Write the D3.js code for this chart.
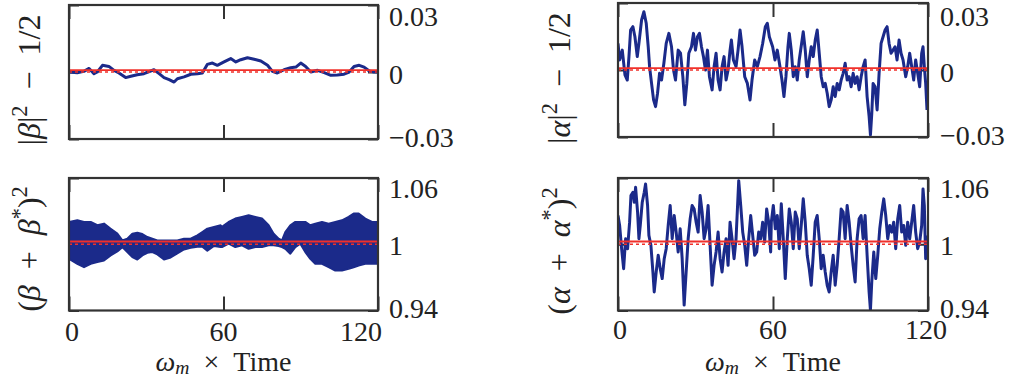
<!DOCTYPE html>
<html>
<head>
<meta charset="utf-8">
<script src="https://cdn.jsdelivr.net/npm/d3@7"></script>
<style>
  body { margin: 0; background: #fff; }
  svg { display: block; }
  text { font-family: "Liberation Serif", "DejaVu Serif", serif; fill: #222; }
</style>
</head>
<body>
<svg width="1020" height="379"></svg>
<script>
// time axis
const tTicks = [0, 60, 120]
const tTickLabels = ['0', '60', '120']

// |beta|^2 - 1/2  (top left)
const betaNormT = [0, 3.2, 5.8, 7.8, 9.7, 11.0, 13.0, 15.5, 17.5, 19.4, 22.0, 24.0, 26.5, 29.1, 31.7,
  33.0, 35.0, 36.9, 38.9, 40.8, 42.1, 44.7, 47.3, 49.9, 51.8, 53.7, 55.7, 57.6, 60.2, 62.8,
  64.8, 66.7, 69.3, 71.9, 74.5, 77.1, 79.0, 80.9, 83.5, 86.1, 88.1, 90.0, 91.9, 93.9, 96.5,
  99.1, 101.7, 104.2, 106.8, 108.8, 110.7, 112.7, 114.6, 116.6, 118.5, 120]
const betaNormV = [0, -0.0003, 0.0003, 0.0016, -0.00075, 0, 0.003, 0.0025, 0.00075, -0.00045,
  -0.0025, -0.0019, -0.0012, -0.00075, 0.00045, 0.001, -0.00075, -0.0025, -0.0034, -0.0045,
  -0.003, -0.0022, -0.001, -0.00075, -0.00045, 0.0034, 0.004, 0.003, 0.0045, 0.006,
  0.0045, 0.0055, 0.0064, 0.0057, 0.0049, 0.003, 0.0003, -0.00045, 0.001, 0.0019,
  0.0022, 0.004, 0.0025, 0, 0.00075, -0.0003, -0.0015, -0.0013, -0.001, 0,
  0.0025, 0.003, 0.0022, 0.00045, 0, 0]

// |alpha|^2 - 1/2  (top right)
const alphaNormT = [0, 0.63, 1.66, 2.69, 3.59, 4.24, 4.88, 5.78, 6.55, 7.46, 8.10, 9.13, 10.03, 10.93,
  11.70, 12.22, 12.99, 13.77, 14.54, 15.31, 16.08, 16.86, 17.76, 18.66, 19.69, 20.72, 21.49, 22.26,
  23.29, 24.20, 25.10, 25.87, 26.64, 27.41, 28.44, 29.22, 29.99, 30.76, 31.54, 32.31, 33.08, 33.85,
  34.63, 35.40, 36.43, 37.20, 37.97, 38.75, 39.52, 40.29, 41.06, 41.84, 42.61, 43.38, 43.90, 44.67,
  45.70, 46.47, 47.24, 48.02, 49.05, 50.08, 51.11, 51.88, 52.91, 53.94, 54.97, 56.00, 57.03, 57.80,
  58.58, 59.86, 60.77, 61.67, 62.70, 63.47, 64.24, 65.01, 65.79, 66.30, 67.07, 67.85, 68.62, 69.39,
  70.16, 71.07, 71.71, 72.48, 73.26, 74.03, 74.80, 75.57, 76.35, 77.12, 77.89, 78.66, 79.44, 80.21,
  80.98, 81.75, 82.53, 83.30, 84.07, 84.84, 85.62, 86.39, 87.16, 87.93, 88.71, 89.48, 90.25, 91.02,
  91.80, 92.57, 93.34, 94.12, 94.89, 95.66, 96.43, 97.21, 97.72, 98.24, 98.75, 99.52, 100.30, 101.07,
  101.84, 102.61, 103.39, 104.16, 104.93, 105.70, 106.48, 107.25, 108.02, 108.80, 109.57, 110.34,
  111.37, 112.14, 112.91, 113.69, 114.46, 115.23, 116.01, 116.78, 117.55, 118.07, 118.58, 119.10, 119.61]
const alphaNormV = [0.0119, 0.0045, 0.0089, -0.0022, -0.0045, 0.006, 0.0179, 0.0194, 0.0149, 0.006,
  0.0119, 0.0224, 0.0261, 0.0209, 0.0104, 0.0015, -0.006, -0.0134, -0.0164, -0.0104,
  -0.0015, -0.0045, 0.003, 0.0119, 0.0164, 0.0104, 0, -0.0045, 0.0089, 0.0075,
  -0.003, -0.0156, -0.006, 0.0075, 0.0104, 0.0164, 0.0089, 0.0149, 0.0164, 0.0104,
  0.006, 0, 0.0089, -0.003, -0.0089, 0.0015, 0.0075, -0.0045, -0.0089, 0.0015,
  0.006, -0.0045, 0, 0.0089, 0.0134, 0.0045, 0.0015, 0.0089, 0.0179, 0.0104,
  -0.003, -0.006, -0.0134, -0.0045, 0.0045, 0.0015, 0.006, 0.0119, 0.0194, 0.0209, 0.0149,
  0.0104, 0.0045, 0.0089, 0.0015, -0.0045, -0.0119, -0.003, 0.0104, 0.0164, 0.0089,
  -0.003, 0.0015, -0.0045, 0.0045, 0.0119, 0.0171, 0.0089, -0.003, 0.0045, 0.0104,
  0.006, 0.0134, 0.0179, 0.0075, -0.003, -0.0075, -0.006, -0.0104, -0.0164, -0.0134,
  -0.0075, -0.0119, -0.006, -0.0089, -0.0045, -0.0015, 0.003, -0.0045, -0.003, -0.0075,
  -0.0015, -0.006, -0.003, -0.0089, -0.003, 0.0015, 0.0045, -0.0119, -0.0209, -0.0291,
  -0.0194, -0.006, -0.0075, -0.0179, -0.0015, 0.0119, 0.0149, 0.0179, 0.0194, 0.0119,
  0.0075, 0.0089, 0.0104, 0.0045, 0.0134, 0.0075, 0.0045, -0.003, 0.0015, 0.0075,
  0.0015, -0.0045, 0.0045, -0.0015, -0.0075, 0.0075, 0.0104, 0.0015, -0.006, -0.0179]

// (beta + beta*)^2  (bottom left): upper and lower edge of the band
const betaQuadT = [0, 3.24, 5.83, 8.42, 11.00, 13.59, 16.18, 18.77, 20.71, 22.65, 24.60, 26.54, 28.48,
  30.42, 32.36, 34.30, 36.89, 39.48, 42.07, 44.66, 47.25, 49.84, 51.78, 53.72, 56.31, 58.90,
  59.41, 62.00, 64.59, 67.18, 69.77, 72.35, 74.94, 77.53, 79.47, 81.41, 82.71, 84.00, 85.95, 87.89,
  89.83, 91.77, 93.71, 95.65, 98.24, 100.83, 103.42, 106.01, 108.60, 110.54, 112.48, 115.07, 117.66, 120]
const betaQuadHi = [1.0202, 1.0217, 1.0202, 1.0202, 1.0172, 1.0187, 1.0141, 1.0096, 1.0035, 1.005,
  1.0096, 1.0105, 1.0093, 1.0065, 1.005, 1.0035, 1.0035, 1.0035, 1.0035, 1.005,
  1.005, 1.0081, 1.0111, 1.0141, 1.0157, 1.0172, 1.0157, 1.0202, 1.0233, 1.0248,
  1.0263, 1.0248, 1.0233, 1.0172, 1.0096, 1.005, 1.0035, 1.0111, 1.0172, 1.0202,
  1.0202, 1.0202, 1.0172, 1.0187, 1.0202, 1.0187, 1.0202, 1.0217, 1.0248, 1.0278,
  1.0278, 1.0233, 1.0202, 1.0202]
const betaQuadLo = [0.9868, 0.9823, 0.9792, 0.9823, 0.9838, 0.9853, 0.9899, 0.9935, 0.9974, 0.9929,
  0.9883, 0.9862, 0.9899, 0.9923, 0.9929, 0.9908, 0.9862, 0.988, 0.9917, 0.9953,
  0.9968, 0.9978, 0.9978, 0.9941, 0.9984, 0.9974, 0.9974, 1.0005, 0.9974, 0.999,
  0.9959, 0.9974, 0.9974, 0.999, 0.999, 0.9984, 0.9974, 0.9959, 0.9914, 0.9974,
  1.0005, 0.9929, 0.9868, 0.9823, 0.9823, 0.9792, 0.9762, 0.9762, 0.9777, 0.9792,
  0.9808, 0.9823, 0.9823, 0.9823]

// (alpha + alpha*)^2  (bottom right)
const alphaQuadT = [0, 0.63, 1.40, 2.18, 2.95, 3.72, 4.49, 5.01, 5.78, 6.30, 6.81, 7.58, 8.10, 8.61,
  9.39, 10.16, 10.67, 11.45, 11.96, 12.74, 13.51, 14.02, 14.79, 15.57, 16.34, 17.11, 17.89, 18.66,
  19.43, 20.20, 20.98, 21.75, 22.52, 23.29, 24.07, 24.84, 25.61, 26.38, 27.16, 27.93, 28.70, 29.48,
  30.25, 31.02, 31.79, 32.57, 33.34, 34.11, 34.88, 35.66, 36.43, 37.20, 37.97, 38.75, 39.52, 40.29,
  41.06, 41.84, 42.61, 43.38, 44.15, 44.93, 45.70, 46.73, 47.50, 48.28, 49.05, 49.82, 50.59, 51.37,
  52.14, 52.91, 53.68, 54.46, 55.23, 56.00, 56.77, 57.55, 58.32, 59.09,
  59.35, 60.12, 60.89, 61.66, 62.44, 63.21, 63.98, 64.75, 65.53, 66.30, 67.07, 67.84, 68.62, 69.39,
  70.16, 70.93, 71.71, 72.48, 73.25, 74.02, 74.80, 75.57, 76.34, 77.11, 77.89, 78.66, 79.43, 80.21,
  80.98, 81.75, 82.52, 83.30, 84.07, 84.84, 85.61, 86.39, 87.16, 87.93, 88.70, 89.48, 90.25, 91.02,
  91.79, 92.57, 93.34, 94.11, 94.89, 95.66, 96.43, 97.20, 97.72, 98.23, 99.01, 99.78, 100.55, 101.32,
  102.10, 102.87, 103.64, 104.41, 105.19, 105.96, 106.73, 107.50, 108.28, 109.05, 109.82, 110.59,
  111.37, 112.14, 112.91, 113.69, 114.46, 115.23, 116.00, 116.78, 117.55, 118.07, 118.58, 119.10, 119.61]
const alphaQuadV = [1.026, 1.017, 0.996, 0.9779, 1.005, 0.996, 1.02, 1.0441, 1.0471, 1.0381,
  1.0516, 1.0291, 1.005, 1.017, 1.0381, 1.0471, 1.0546, 1.0351, 1.008, 0.999,
  0.9749, 0.9568, 0.9749, 0.99, 0.9779, 0.9689, 0.9869, 0.996, 1.017, 1.0351,
  1.005, 1.026, 1.011, 0.993, 1.014, 0.9869, 0.9449, 0.9749, 1.005, 1.023,
  1.0351, 1.032, 1.02, 1.011, 1.0441, 1.0291, 1.005, 1.014, 1.0351, 0.999,
  0.9629, 0.9809, 0.993, 1.011, 0.9869, 0.9749, 0.993, 1.005, 0.9809, 1.02,
  1.005, 0.9869, 1.005, 1.0576, 1.0351, 1.011, 0.999, 0.9809, 1.005, 1.026,
  1.008, 0.99, 0.993, 1.011, 1.005, 1.02, 1.002, 1.032, 1.02, 0.993,
  1.02, 1.0351, 1.014, 1.026, 0.996, 1.0366, 1.005, 0.9689, 1.005, 1.032,
  1.02, 0.996, 1.0291, 1.023, 0.996, 1.017, 1.0411, 1.02, 0.99, 0.9779,
  0.9629, 0.99, 1.02, 1.026, 1.005, 0.9779, 0.99, 0.9749, 0.9629, 0.9568,
  0.9749, 0.99, 0.9629, 0.9809, 1.005, 1.032, 1.0291, 1.005, 1.0351, 1.02,
  0.999, 0.9809, 0.9659, 1.005, 1.023, 1.026, 1.005, 1.026, 0.99, 0.9568,
  0.9403, 0.9659, 0.993, 0.9689, 0.99, 1.014, 1.0291, 1.0411, 1.026, 1.005,
  1.017, 1.011, 1.02, 0.996, 1.023, 1.0351, 1.011, 1.017, 0.999, 1.02,
  1.005, 1.02, 1.0351, 1.011, 0.996, 1.002, 1.017, 1.0501, 1.0351, 0.9869, 1.008]

// y ticks and reference lines
const normTicks = [0.03, 0, -0.03]
const normTickLabels = ['0.03', '0', '\u22120.03']
const quadTicks = [1.06, 1, 0.94]
const quadTickLabels = ['1.06', '1', '0.94']
const normRef = 0.0008, normMean = 0
const quadRef = 1.0025, quadMean = 1

const blue = '#1b2a8a'
const red = '#f0302a'
const frame = '#333'
const sp = '\u2002'

const svg = d3.select('svg')

const panels = [
  { id: 'tl', x: 69, y: 5, w: 309, h: 134, dom: [-0.03, 0.03], ticks: normTicks, labels: normTickLabels,
    ref: normRef, mean: normMean, t: betaNormT, v: betaNormV, bottom: false, lblX: 389, lblDy: [11, 2.5, -2],
    ylabCx: 30, ylabCy: 80,
    ylab: [{ t: '|' }, { t: '\u03b2', i: true }, { t: '|' }, { t: '2', sup: true }, { t: sp + '\u2212' + sp + '1/2' }] },
  { id: 'tr', x: 618, y: 3, w: 310, h: 134, dom: [-0.03, 0.03], ticks: normTicks, labels: normTickLabels,
    ref: normRef, mean: normMean, t: alphaNormT, v: alphaNormV, bottom: false, lblX: 940, lblDy: [13, 2.5, -2],
    ylabCx: 560, ylabCy: 78,
    ylab: [{ t: '|' }, { t: '\u03b1', i: true }, { t: '|' }, { t: '2', sup: true }, { t: sp + '\u2212' + sp + '1/2' }] },
  { id: 'bl', x: 69, y: 178, w: 309, h: 132.5, dom: [0.94, 1.06], ticks: quadTicks, labels: quadTickLabels,
    ref: quadRef, mean: quadMean, t: betaQuadT, hi: betaQuadHi, lo: betaQuadLo, bottom: true, lblX: 389,
    lblDy: [10, 1.5, -2], ylabCx: 30, ylabCy: 249, xlabDx: [3, 0, -17], xlabY: 331,
    ylab: [{ t: '(' }, { t: '\u03b2', i: true }, { t: sp + '+' + sp }, { t: '\u03b2', i: true }, { t: '*', sup: true }, { t: ')' }, { t: '2', sup: true }] },
  { id: 'br', x: 618, y: 178, w: 310, h: 132.5, dom: [0.94, 1.06], ticks: quadTicks, labels: quadTickLabels,
    ref: quadRef, mean: quadMean, t: alphaQuadT, v: alphaQuadV, bottom: true, lblX: 940,
    lblDy: [10, 1.5, -2], ylabCx: 560, ylabCy: 251, xlabDx: [2, 0, -2], xlabY: 329,
    ylab: [{ t: '(' }, { t: '\u03b1', i: true }, { t: sp + '+' + sp }, { t: '\u03b1', i: true }, { t: '*', sup: true }, { t: ')' }, { t: '2', sup: true }] }
]

// text with italic / superscript / subscript pieces
function mathText(sel, parts, fs) {
  const t = sel.append('text').attr('font-size', fs)
  let shift = 0
  parts.forEach(p => {
    const target = p.sup ? -fs * 0.42 : p.sub ? fs * 0.12 : 0
    t.append('tspan')
      .attr('dy', target - shift)
      .attr('font-size', (p.sup || p.sub) ? fs * 0.7 : fs)
      .attr('font-style', p.i ? 'italic' : 'normal')
      .text(p.t)
    shift = target
  })
  return t
}

panels.forEach(p => {
  const x = d3.scaleLinear().domain([0, 120]).range([p.x, p.x + p.w])
  const y = d3.scaleLinear().domain(p.dom).range([p.y + p.h, p.y])
  const g = svg.append('g')

  svg.append('clipPath').attr('id', 'clip-' + p.id)
    .append('rect').attr('x', p.x).attr('y', p.y).attr('width', p.w).attr('height', p.h)

  // inward ticks on all four sides
  const axes = [
    [d3.axisTop(x).tickValues(tTicks).tickSizeInner(-14), `translate(0,${p.y})`],
    [d3.axisBottom(x).tickValues(tTicks).tickSizeInner(-14), `translate(0,${p.y + p.h})`],
    [d3.axisLeft(y).tickValues(p.ticks).tickSizeInner(-10), `translate(${p.x},0)`],
    [d3.axisRight(y).tickValues(p.ticks).tickSizeInner(-10), `translate(${p.x + p.w},0)`]
  ]
  axes.forEach(([ax, tr]) => {
    const a = g.append('g').attr('transform', tr)
      .call(ax.tickSizeOuter(0).tickFormat(''))
    a.select('.domain').remove()
    a.selectAll('line').attr('stroke', frame).attr('stroke-width', 2)
  })

  const plot = g.append('g').attr('clip-path', `url(#clip-${p.id})`)

  if (p.hi) {
    const band = d3.zip(p.t, p.lo, p.hi)
    plot.append('path')
      .attr('d', d3.area().x(d => x(d[0])).y0(d => y(d[1])).y1(d => y(d[2]))(band))
      .attr('fill', blue).attr('stroke', blue).attr('stroke-width', 2)
      .attr('stroke-linejoin', 'round')
  } else {
    plot.append('path')
      .attr('d', d3.line().x(d => x(d[0])).y(d => y(d[1]))(d3.zip(p.t, p.v)))
      .attr('fill', 'none').attr('stroke', blue).attr('stroke-width', 3)
      .attr('stroke-linejoin', 'round')
  }

  plot.append('line')
    .attr('x1', x(0)).attr('x2', x(120)).attr('y1', y(p.ref)).attr('y2', y(p.ref))
    .attr('stroke', red).attr('stroke-width', 1.8)
  plot.append('line')
    .attr('x1', x(0)).attr('x2', x(120)).attr('y1', y(p.mean)).attr('y2', y(p.mean))
    .attr('stroke', red).attr('stroke-width', 1.6).attr('stroke-dasharray', '3,3')

  g.append('rect')
    .attr('x', p.x).attr('y', p.y).attr('width', p.w).attr('height', p.h)
    .attr('fill', 'none').attr('stroke', frame).attr('stroke-width', 2.2)

  // y tick labels on the right
  g.selectAll('.ylbl').data(p.ticks).enter().append('text')
    .attr('x', p.lblX)
    .attr('y', (d, i) => y(d) + p.lblDy[i])
    .attr('dominant-baseline', 'central')
    .attr('font-size', 28)
    .text((d, i) => p.labels[i])

  // x tick labels and axis title for the bottom row
  if (p.bottom) {
    g.selectAll('.xlbl').data(tTicks).enter().append('text')
      .attr('x', (d, i) => x(d) + p.xlabDx[i])
      .attr('y', p.xlabY)
      .attr('text-anchor', 'middle')
      .attr('dominant-baseline', 'central')
      .attr('font-size', 28)
      .text((d, i) => tTickLabels[i])

    mathText(g, [{ t: '\u03c9', i: true }, { t: 'm', i: true, sub: true }, { t: sp + '\u00d7' + sp + 'Time' }], 28)
      .attr('x', x(60)).attr('y', 371)
      .attr('text-anchor', 'middle')
  }

  mathText(g, p.ylab, 32)
    .attr('text-anchor', 'middle')
    .attr('transform', `translate(${p.ylabCx + 10},${p.ylabCy}) rotate(-90)`)
})
</script>
</body>
</html>
